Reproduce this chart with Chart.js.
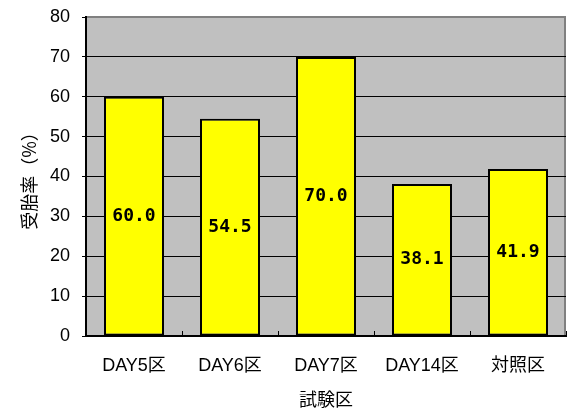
<!DOCTYPE html>
<html>
<head>
<meta charset="utf-8">
<script src="https://cdn.jsdelivr.net/npm/chart.js@4.4.1/dist/chart.umd.min.js"></script>
<style>
  html, body { margin: 0; padding: 0; background: #ffffff; }
  #wrap { width: 568px; height: 410px; }
</style>
</head>
<body>
<div id="wrap"><canvas id="c" width="568" height="410"></canvas></div>
<script>
// 試験区ごとの受胎率
const categories = ['DAY5区', 'DAY6区', 'DAY7区', 'DAY14区', '対照区'];
const rates = [60.0, 54.5, 70.0, 38.1, 41.9];
const yTicks = [0, 10, 20, 30, 40, 50, 60, 70, 80];
const xTitle = '試験区';
const yTitle = '受胎率（%）';

const labelFont = 'Liberation Sans, Arial, "Noto Sans CJK JP", sans-serif';

// gray plot background and outer frame
const plotFrame = {
  id: 'plotFrame',
  beforeDraw(chart) {
    const { ctx, chartArea: a } = chart;
    ctx.save();
    ctx.fillStyle = '#c0c0c0';
    ctx.fillRect(a.left, a.top, a.right - a.left, a.bottom - a.top);
    ctx.strokeStyle = '#808080';
    ctx.lineWidth = 2;
    ctx.beginPath();
    ctx.moveTo(a.left, a.top);
    ctx.lineTo(a.right - 1, a.top);
    ctx.lineTo(a.right - 1, a.bottom);
    ctx.stroke();
    ctx.restore();
  },
  // small inward tick marks between categories on the x axis
  afterDatasetsDraw(chart) {
    const { ctx, chartArea: a } = chart;
    const xs = chart.scales.x;
    ctx.save();
    ctx.strokeStyle = '#000000';
    ctx.lineWidth = 1;
    ctx.beginPath();
    for (let i = 0; i <= categories.length; i++) {
      const px = Math.round(xs.getPixelForValue(i - 0.5)) + 0.5;
      ctx.moveTo(px, a.bottom);
      ctx.lineTo(px, a.bottom - 5);
    }
    ctx.stroke();
    ctx.restore();
  }
};

// value labels centred inside each bar
const barValues = {
  id: 'barValues',
  afterDatasetsDraw(chart) {
    const { ctx } = chart;
    const meta = chart.getDatasetMeta(0);
    ctx.save();
    ctx.fillStyle = '#000000';
    ctx.font = 'bold 18px "DejaVu Sans Mono", "Liberation Mono", monospace';
    ctx.textAlign = 'center';
    ctx.textBaseline = 'middle';
    meta.data.forEach((bar, i) => {
      const y = (bar.y + bar.base) / 2;
      ctx.fillText(rates[i].toFixed(1), bar.x, y);
    });
    ctx.restore();
  }
};

new Chart(document.getElementById('c'), {
  type: 'bar',
  data: {
    labels: categories,
    datasets: [{
      data: rates,
      backgroundColor: '#ffff00',
      borderColor: '#000000',
      borderWidth: 2,
      borderSkipped: false,
      categoryPercentage: 0.625,
      barPercentage: 1.0
    }]
  },
  options: {
    responsive: false,
    animation: false,
    devicePixelRatio: 1,
    layout: { padding: { top: 17, right: 2, left: 0, bottom: 0 } },
    plugins: {
      legend: { display: false },
      tooltip: { enabled: false }
    },
    scales: {
      x: {
        grid: { display: false, drawTicks: false },
        border: { display: true, color: '#000000', width: 2 },
        ticks: {
          color: '#000000',
          font: { family: labelFont, size: 18 },
          padding: 19
        },
        title: {
          display: true,
          text: xTitle,
          color: '#000000',
          font: { family: '"Noto Sans CJK JP", sans-serif', size: 18 },
          padding: { top: 4, bottom: 0 }
        },
        afterFit(scale) { scale.height = 74; }
      },
      y: {
        min: 0,
        max: 80,
        afterBuildTicks(scale) { scale.ticks = yTicks.map(v => ({ value: v })); },
        grid: {
          color: ctx => (ctx.tick && ctx.tick.value === 80 ? '#808080' : '#000000'),
          lineWidth: 1,
          tickLength: 4,
          tickColor: '#000000'
        },
        border: { display: true, color: '#000000', width: 2 },
        ticks: {
          color: '#000000',
          font: { family: labelFont, size: 18 },
          padding: 12
        },
        title: {
          display: true,
          text: yTitle,
          color: '#000000',
          font: { family: '"Noto Sans CJK JP", sans-serif', size: 18 },
          padding: { top: 18, bottom: 8 }
        },
        afterFit(scale) {
          scale.width = 86;
          scale.paddingTop = 0;
          scale.paddingBottom = 0;
        }
      }
    }
  },
  plugins: [plotFrame, barValues]
});
</script>
</body>
</html>
